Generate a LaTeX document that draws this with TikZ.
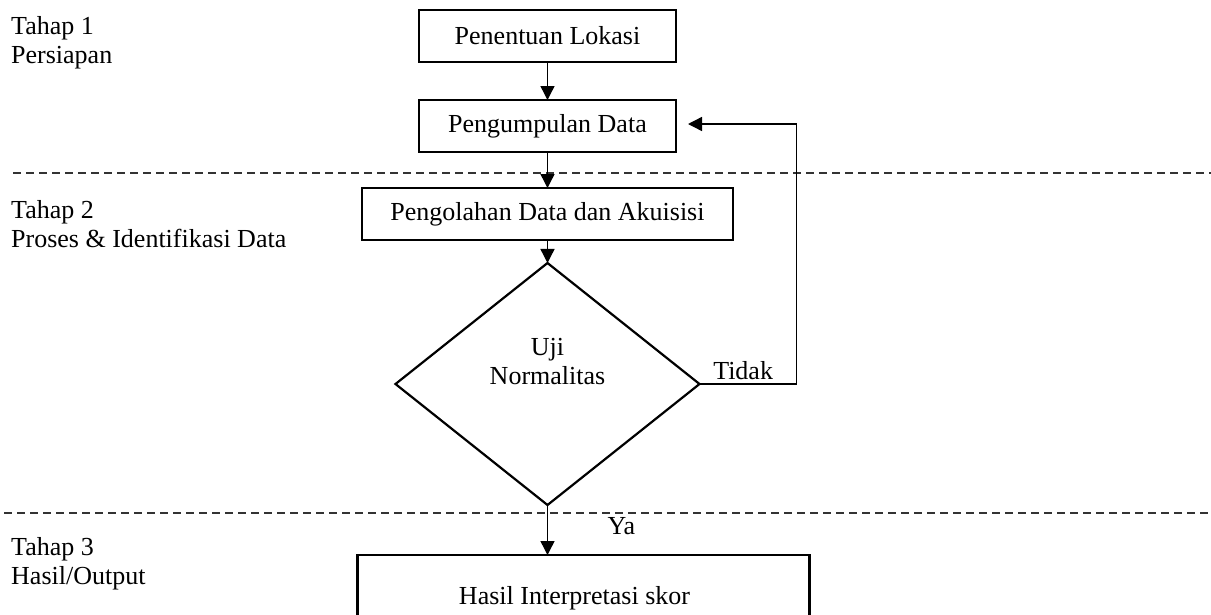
\documentclass[tikz,border=0pt]{standalone}
\usepackage{fontspec}
\setmainfont{Liberation Serif}
\usetikzlibrary{positioning,shapes.geometric,arrows.meta}

\begin{document}
\begin{tikzpicture}[x=1pt,y=1pt,
      every node/.style={font=\fontsize{26}{29}\selectfont},
      stepbox/.style={rectangle,draw,line width=2.2pt,outer sep=0pt,inner sep=0pt,minimum height=52pt},
      decision/.style={diamond,draw,line width=2.2pt,outer sep=0pt,inner sep=0pt,
        minimum width=304pt,minimum height=242pt},
      panah/.style={line width=1.4pt,-{Triangle[length=14pt,width=14pt]}},
      batas/.style={dashed,dash pattern=on 8pt off 5pt,line width=1.3pt,black!80},
      tahap/.style={align=left,anchor=north west,inner sep=0pt}]

  \useasboundingbox (0,0) rectangle (1211,-614);

  % keterangan tahap
  \node[tahap] (tahap1) at (11,-16) {Tahap 1\\Persiapan};
  \node[tahap] (tahap2) at (11,-200) {Tahap 2\\Proses \& Identifikasi Data};
  \node[tahap] (tahap3) at (11,-537) {Tahap 3\\Hasil/Output};

  % garis batas
  \draw[batas] (13,-173) -- (1211,-173);
  \draw[batas] (4,-513) -- (1211,-513);

  % alur
  \node[stepbox,minimum width=257pt] (lokasi) at (547.5,-36) {Penentuan Lokasi};
  \node[stepbox,minimum width=257pt,below=38pt of lokasi] (kumpul) {Pengumpulan Data};
  \node[stepbox,minimum width=371pt,below=36pt of kumpul] (olah) {Pengolahan Data dan Akuisisi};
  \node[decision,below=23pt of olah,
    label={[align=center,yshift=22pt]center:Uji\\Normalitas}] (uji) {};
  \node[stepbox,minimum width=452pt,minimum height=74pt,below=50pt of uji,xshift=36pt,
    label={[xshift=-9pt,yshift=-6pt]center:Hasil Interpretasi skor}] (hasil) {};

  \draw[panah] (lokasi) -- (kumpul);
  \draw[panah] (kumpul) -- (olah);
  \draw[panah] (olah) -- (uji);
  \draw[panah] (uji.south) -- (uji.south |- hasil.north)
     node[midway,right=56pt,yshift=4pt] {Ya};
  \draw[panah] (uji.east) -- ++(97,0)
     node[pos=0.45,above] {Tidak}
     |- ([xshift=12pt,yshift=2pt]kumpul.east);
\end{tikzpicture}
\end{document}
